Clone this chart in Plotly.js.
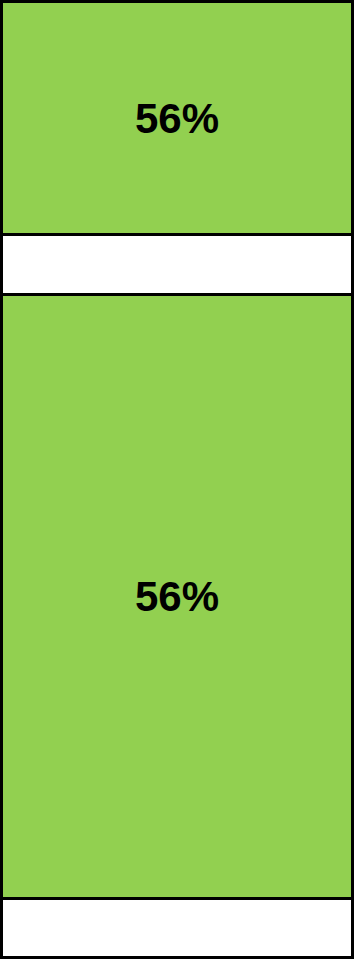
<!DOCTYPE html>
<html>
<head>
<meta charset="utf-8">
<script src="https://cdn.plot.ly/plotly-3.0.1.min.js"></script>
<style>
html, body { margin: 0; padding: 0; background: #ffffff; }
#chart { width: 354px; height: 959px; }
</style>
</head>
<body>
<div id="chart"></div>
<script>
// Segments listed from bottom to top
const segmentNames = ["Rest B", "Fill B", "Rest A", "Fill A"];
const segmentValues = [59, 604, 60, 233];
const segmentLabels = ["", "56%", "", "56%"];
const segmentColors = ["#FFFFFF", "#92D050", "#FFFFFF", "#92D050"];

const traces = segmentValues.map((v, i) => ({
  type: "bar",
  name: segmentNames[i],
  x: [0],
  y: [v],
  width: 1,
  text: [segmentLabels[i]],
  textposition: "inside",
  insidetextanchor: "middle",
  constraintext: "none",
  textfont: { family: "Liberation Sans, Arial, sans-serif", size: 42, color: "#000000", weight: "bold" },
  marker: { color: segmentColors[i], line: { color: "#000000", width: 3 } },
  hoverinfo: "skip",
  showlegend: false
}));

const total = segmentValues.reduce((a, b) => a + b, 0);
const padX = 1.5 / 351;

const layout = {
  width: 354,
  height: 959,
  margin: { l: 0, r: 0, t: 0, b: 0, pad: 0 },
  barmode: "stack",
  paper_bgcolor: "#FFFFFF",
  plot_bgcolor: "#FFFFFF",
  showlegend: false,
  xaxis: { range: [-0.5 - padX, 0.5 + padX], visible: false, fixedrange: true },
  yaxis: { range: [-1.5, total + 1.5], visible: false, fixedrange: true }
};

Plotly.newPlot("chart", traces, layout, { displayModeBar: false, staticPlot: true });
</script>
</body>
</html>
